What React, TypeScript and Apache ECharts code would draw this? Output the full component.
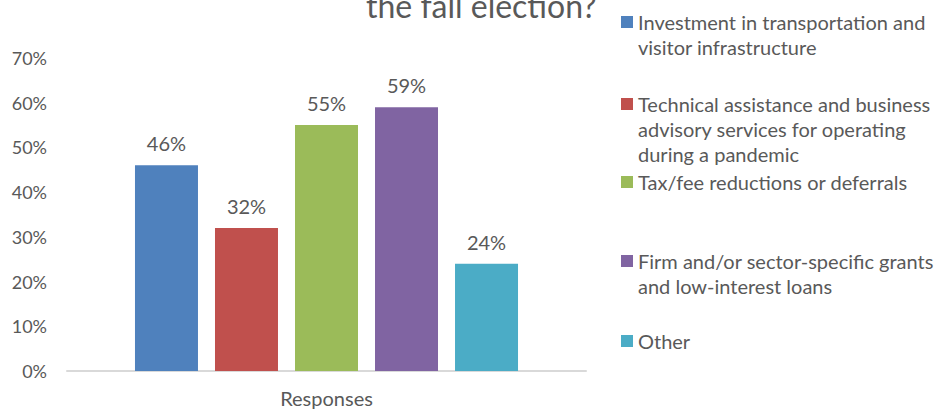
import React, { useEffect, useRef } from "react";
import * as echarts from "echarts";

const categories = ["Responses"];
const seriesNames = [
  "Investment in transportation and visitor infrastructure",
  "Technical assistance and business advisory services for operating during a pandemic",
  "Tax/fee reductions or deferrals",
  "Firm and/or sector-specific grants and low-interest loans",
  "Other",
];
const legendLines = [
  ["Investment in transportation and", "visitor infrastructure"],
  ["Technical assistance and business", "advisory services for operating", "during a pandemic"],
  ["Tax/fee reductions or deferrals"],
  ["Firm and/or sector-specific grants", "and low-interest loans"],
  ["Other"],
];
const values = [46, 32, 55, 59, 24];
const colors = ["#4F81BD", "#C0504D", "#9BBB59", "#8064A2", "#4BACC6"];
const yTicks = [0, 10, 20, 30, 40, 50, 60, 70];

const FONT = "Lato";
const TEXT = "#595959";

export default function App() {
  const ref = useRef<HTMLDivElement>(null);

  useEffect(() => {
    document.body.style.margin = "0";
    if (!ref.current) return;
    const chart = echarts.init(ref.current, undefined, { renderer: "svg" });

    // legend rows: first-line centre of each entry
    const legendTops = [22, 104, 182, 261, 341];
    const lineH = 25;
    const legendGraphics: any[] = [];
    legendLines.forEach((lines, i) => {
      legendGraphics.push({
        type: "rect",
        shape: { x: 621, y: legendTops[i] - 6, width: 12, height: 12 },
        style: { fill: colors[i] },
      });
      legendGraphics.push({
        type: "text",
        x: 638,
        y: legendTops[i] - lineH / 2,
        style: {
          text: lines.join("\n"),
          font: `20px ${FONT}`,
          fill: TEXT,
          lineHeight: lineH,
          verticalAlign: "top",
        },
      });
    });

    chart.setOption({
      animation: false,
      title: {
        text: "the fall election?",
        left: 361,
        top: -16,
        textStyle: { fontFamily: FONT, fontSize: 32, fontWeight: "normal", color: TEXT },
      },
      grid: { left: 67, right: 348, top: 58, bottom: 38, containLabel: false },
      xAxis: {
        type: "category",
        data: categories,
        axisLine: { lineStyle: { color: "#d9d9d9", width: 2 } },
        axisTick: { show: false },
        axisLabel: { fontFamily: FONT, fontSize: 20, color: TEXT, margin: 17 },
      },
      yAxis: {
        type: "value",
        min: 0,
        max: 70,
        interval: 10,
        splitLine: { show: false },
        axisLine: { show: false },
        axisTick: { show: false },
        axisLabel: {
          fontFamily: FONT,
          fontSize: 18,
          color: TEXT,
          margin: 20,
          formatter: (v: number) => (yTicks.includes(v) ? `${v}%` : ""),
        },
      },
      series: seriesNames.map((name, i) => ({
        name,
        type: "bar",
        barWidth: 63,
        barGap: "27%",
        data: [values[i]],
        itemStyle: { color: colors[i] },
        label: {
          show: true,
          position: "top",
          distance: 12,
          formatter: "{c}%",
          fontFamily: FONT,
          fontSize: 20,
          color: TEXT,
        },
      })),
      graphic: legendGraphics,
    });

    return () => chart.dispose();
  }, []);

  return <div ref={ref} style={{ width: 934, height: 409 }} />;
}
